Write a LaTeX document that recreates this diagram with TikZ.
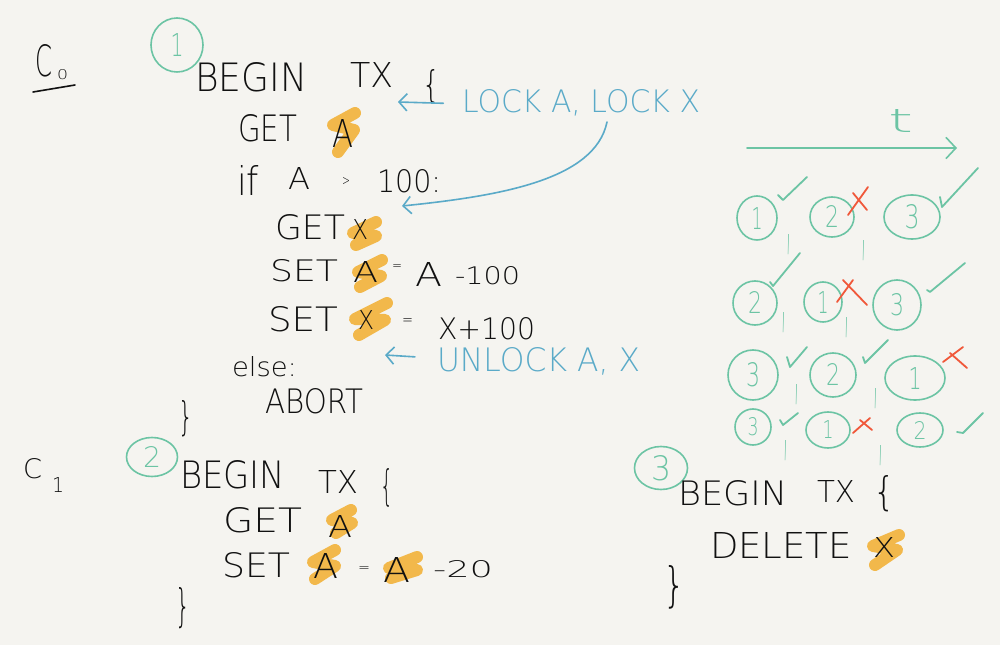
\documentclass[tikz,border=0pt]{standalone}
\usepackage{fontspec}
\usepackage{graphicx}
\usetikzlibrary{arrows.meta,shapes.geometric}
\newfontfamily\hand{DejaVu Sans ExtraLight}
\newlength\px
\setlength\px{0.75pt}
\newcommand\fitbox[3]{\resizebox{#1\px}{#2\px}{#3}}
\definecolor{bg}{HTML}{F5F4F0}
\definecolor{ink}{HTML}{111111}
\definecolor{hl}{HTML}{F2B84B}
\definecolor{grn}{HTML}{6CC4A4}
\definecolor{blu}{HTML}{5AAAC8}
\definecolor{redx}{HTML}{F0583A}
\begin{document}
\begin{tikzpicture}[x=0.75pt,y=-0.75pt,
  txt/.style={anchor=base west, inner sep=0pt, outer sep=0pt, font=\hand, text=ink},
  gtxt/.style={txt, text=grn},
  btxt/.style={txt, text=blu},
  hilite/.style={draw=hl, line width=9pt, line cap=round, line join=round},
  ring/.style={ellipse, draw=grn, line width=1.2pt, inner sep=0pt, text=grn, font=\hand},
  tick/.style={draw=grn, line width=1.35pt, line cap=round, line join=round},
  cross/.style={draw=redx, line width=1.35pt, line cap=round},
  inkline/.style={draw=ink, line width=1.2pt, line cap=round},
  barrow/.style={draw=blu, line width=1.2pt, line cap=round, -{Straight Barb[length=6pt,width=13pt]}},
  garrow/.style={draw=grn, line width=1.2pt, line cap=round, -{Straight Barb[length=7.5pt,width=16pt]}},
]
\fill[bg] (0,0) rectangle (1000,645);
\useasboundingbox (0,0) rectangle (1000,645);

% ---------- highlights ----------
\draw[hilite] (355,113)--(333,125)--(354,130)--(338,152);
\draw[hilite] (376,222)--(353,233)--(376,236)--(356,245);
\draw[hilite] (382,260)--(358,272)--(381,276)--(360,287);
\draw[hilite] (387,303)--(355,319)--(385,320)--(359,335);
\draw[hilite] (351,510)--(332,520)--(352,523)--(336,533);
\draw[hilite] (335,550)--(313,562)--(335,566)--(315,579);
\draw[hilite] (417,557)--(389,568)--(417,570)--(391,578);
\draw[hilite] (899,535)--(873,546)--(897,550)--(875,565);

% ---------- C0 block ----------
\node[txt] (c0) at (35,77) {\fitbox{17}{32}{C}};
\node[txt] (c0sub) at (57,80) {\fitbox{11}{10}{0}};
\coordinate (ul0) at (33,92);
\coordinate (ul1) at (75,85);
\draw[inkline] (ul0) -- (ul1);
\node[ring, minimum width=39pt, minimum height=40.5pt] (n1) at (177,45) {\fitbox{13}{23}{1}};

\node[txt] (b1) at (195,92) {\fitbox{112}{29}{BEGIN}};
\node[txt] (tx1) at (350,88) {\fitbox{43}{25}{TX}};
\node[txt] (ob1) at (422,98) {\fitbox{18}{28}{\{}};
\node[txt] (get1) at (238,142) {\fitbox{59}{27}{GET}};
\node[txt] (a1) at (332,148) {\fitbox{21}{28}{A}};
\node[txt] (if1) at (237,196) {\fitbox{22}{30}{if}};
\node[txt] (a2) at (288,190) {\fitbox{22}{22}{A}};
\node[txt] (gt1) at (342,186) {\fitbox{8}{8}{>}};
\node[txt] (n100) at (377,193) {\fitbox{64}{23}{100:}};
\node[txt] (get2) at (275,240) {\fitbox{70}{25}{GET}};
\node[txt] (x1) at (352,240) {\fitbox{16}{20}{X}};
\node[txt] (set1) at (270,282) {\fitbox{68}{22}{SET}};
\node[txt] (a3) at (353,283) {\fitbox{25}{21}{A}};
\node[txt] (eq1) at (392,271) {\fitbox{10}{6}{=}};
\node[txt] (a4) at (415,287) {\fitbox{27}{24}{A}};
\node[txt] (m100) at (455,285) {\fitbox{65}{18}{-100}};
\node[txt] (set2) at (268,332) {\fitbox{70}{25}{SET}};
\node[txt] (x2) at (358,330) {\fitbox{16}{19}{X}};
\node[txt] (eq2) at (402,326) {\fitbox{11}{7}{=}};
\node[txt] (xp100) at (438,340) {\fitbox{97}{22}{X+100}};
\node[txt] (else1) at (232,377) {\fitbox{65}{20}{else:}};
\node[txt] (abort) at (265,413) {\fitbox{98}{25}{ABORT}};
\node[txt] (cb1) at (178,430) {\fitbox{15}{30}{\}}};

% ---------- blue notes ----------
\node[btxt] (lock) at (462,113) {\fitbox{238}{23}{LOCK A, LOCK X}};
\coordinate (lockhead) at (398,102);
\draw[barrow] ([xshift=-14pt]lock.west) -- (lockhead);
\coordinate (cstart) at (607,122);
\coordinate (curvehead) at (402,206);
\draw[barrow] (cstart) .. controls (595,180) and (500,196) .. (curvehead);
\node[btxt] (unlock) at (437,372) {\fitbox{203}{24}{UNLOCK A, X}};
\coordinate (unlockhead) at (385,355);
\draw[barrow] ([xshift=-16.5pt,yshift=3.75pt]unlock.west) -- (unlockhead);

% ---------- C1 block ----------
\node[txt] (c1) at (23,478) {\fitbox{19}{20}{C}};
\node[txt] (c1sub) at (52,492) {\fitbox{12}{15}{1}};
\node[ring, minimum width=38.25pt, minimum height=29.25pt] (n2) at (152,457) {\fitbox{18}{21}{2}};
\node[txt] (b2) at (180,488) {\fitbox{105}{28}{BEGIN}};
\node[txt] (tx2) at (318,493) {\fitbox{40}{23}{TX}};
\node[txt] (ob2) at (380,500) {\fitbox{13}{32}{\{}};
\node[txt] (get3) at (223,532) {\fitbox{79}{25}{GET}};
\node[txt] (a5) at (328,537) {\fitbox{24}{22}{A}};
\node[txt] (set3) at (222,577) {\fitbox{68}{25}{SET}};
\node[txt] (a6) at (313,578) {\fitbox{25}{25}{A}};
\node[txt] (eq3) at (358,572) {\fitbox{12}{6}{=}};
\node[txt] (a7) at (383,582) {\fitbox{27}{25}{A}};
\node[txt] (m20) at (433,577) {\fitbox{60}{17}{-20}};
\node[txt] (cb2) at (175,621) {\fitbox{15}{34}{\}}};

% ---------- tx 3 block ----------
\node[ring, minimum width=39.75pt, minimum height=32.25pt] (n3) at (661,468) {\fitbox{20}{25}{3}};
\node[txt] (b3) at (678,505) {\fitbox{109}{25}{BEGIN}};
\node[txt] (tx3) at (817,502) {\fitbox{38}{22}{TX}};
\node[txt] (ob3) at (873,505) {\fitbox{22}{30}{\{}};
\node[txt] (del) at (710,558) {\fitbox{142}{26}{DELETE}};
\node[txt] (x3) at (873,557) {\fitbox{22}{20}{X}};
\node[txt] (cb3) at (663,601) {\fitbox{22}{36}{\}}};

% ---------- timeline ----------
\coordinate (t0) at (747,148);
\coordinate (t1) at (957,148);
\draw[garrow] (t0) -- (t1);
\node[gtxt] (tlabel) at (888,133) {\fitbox{25}{23}{t}};

% row 1
\node[ring, minimum width=30pt, minimum height=33pt] (r11) at (757,218) {\fitbox{11}{22}{1}};
\node[ring, minimum width=33pt, minimum height=30pt] (r12) at (832,217) {\fitbox{14}{22}{2}};
\node[ring, minimum width=42pt, minimum height=33pt] (r13) at (912,217) {\fitbox{15}{24}{3}};
\node[gtxt] (k11) at (786,242) {\fitbox{5}{7}{,}};
\node[gtxt] (k12) at (861,248) {\fitbox{5}{7}{,}};
\draw[tick] (778,195)--(783,200)--(807,177);
\draw[cross] (848,215)--(868,187);
\draw[cross] (853,193)--(867,210);
\draw[tick] (940,197)--(942,207)--(978,168);

% row 2
\node[ring, minimum width=33pt, minimum height=33pt] (r21) at (755,303) {\fitbox{14}{22}{2}};
\node[ring, minimum width=28.5pt, minimum height=30pt] (r22) at (823,302) {\fitbox{11}{22}{1}};
\node[ring, minimum width=36pt, minimum height=37.5pt] (r23) at (897,305) {\fitbox{14}{22}{3}};
\node[gtxt] (k21) at (781,320) {\fitbox{5}{7}{,}};
\node[gtxt] (k22) at (844,325) {\fitbox{5}{7}{,}};
\draw[tick] (770,282)--(773,286)--(800,253);
\draw[cross] (837,302)--(853,280);
\draw[cross] (843,280)--(867,305);
\draw[tick] (927,290)--(930,292)--(965,263);

% row 3
\node[ring, minimum width=37.5pt, minimum height=37.5pt] (r31) at (753,375) {\fitbox{14}{24}{3}};
\node[ring, minimum width=34.5pt, minimum height=33pt] (r32) at (833,375) {\fitbox{14}{22}{2}};
\node[ring, minimum width=45pt, minimum height=33pt] (r33) at (915,378) {\fitbox{13}{22}{1}};
\node[gtxt] (k31) at (794,392) {\fitbox{5}{7}{,}};
\node[gtxt] (k32) at (873,395) {\fitbox{5}{7}{,}};
\draw[tick] (787,357)--(790,367)--(807,347);
\draw[tick] (863,357)--(865,363)--(888,340);
\draw[cross] (943,362)--(963,347);
\draw[cross] (950,353)--(967,368);

% row 4
\node[ring, minimum width=27pt, minimum height=27pt] (r41) at (753,427) {\fitbox{11}{18}{3}};
\node[ring, minimum width=33pt, minimum height=27pt] (r42) at (828,430) {\fitbox{11}{18}{1}};
\node[ring, minimum width=34.5pt, minimum height=25.5pt] (r43) at (920,430) {\fitbox{13}{18}{2}};
\node[gtxt] (k41) at (783,447) {\fitbox{5}{7}{,}};
\node[gtxt] (k42) at (878,452) {\fitbox{5}{7}{,}};
\draw[tick] (780,420)--(783,425)--(798,413);
\draw[cross] (853,433)--(870,418);
\draw[cross] (860,420)--(872,430);
\draw[tick] (957,432)--(963,433)--(983,413);
\end{tikzpicture}
\end{document}
